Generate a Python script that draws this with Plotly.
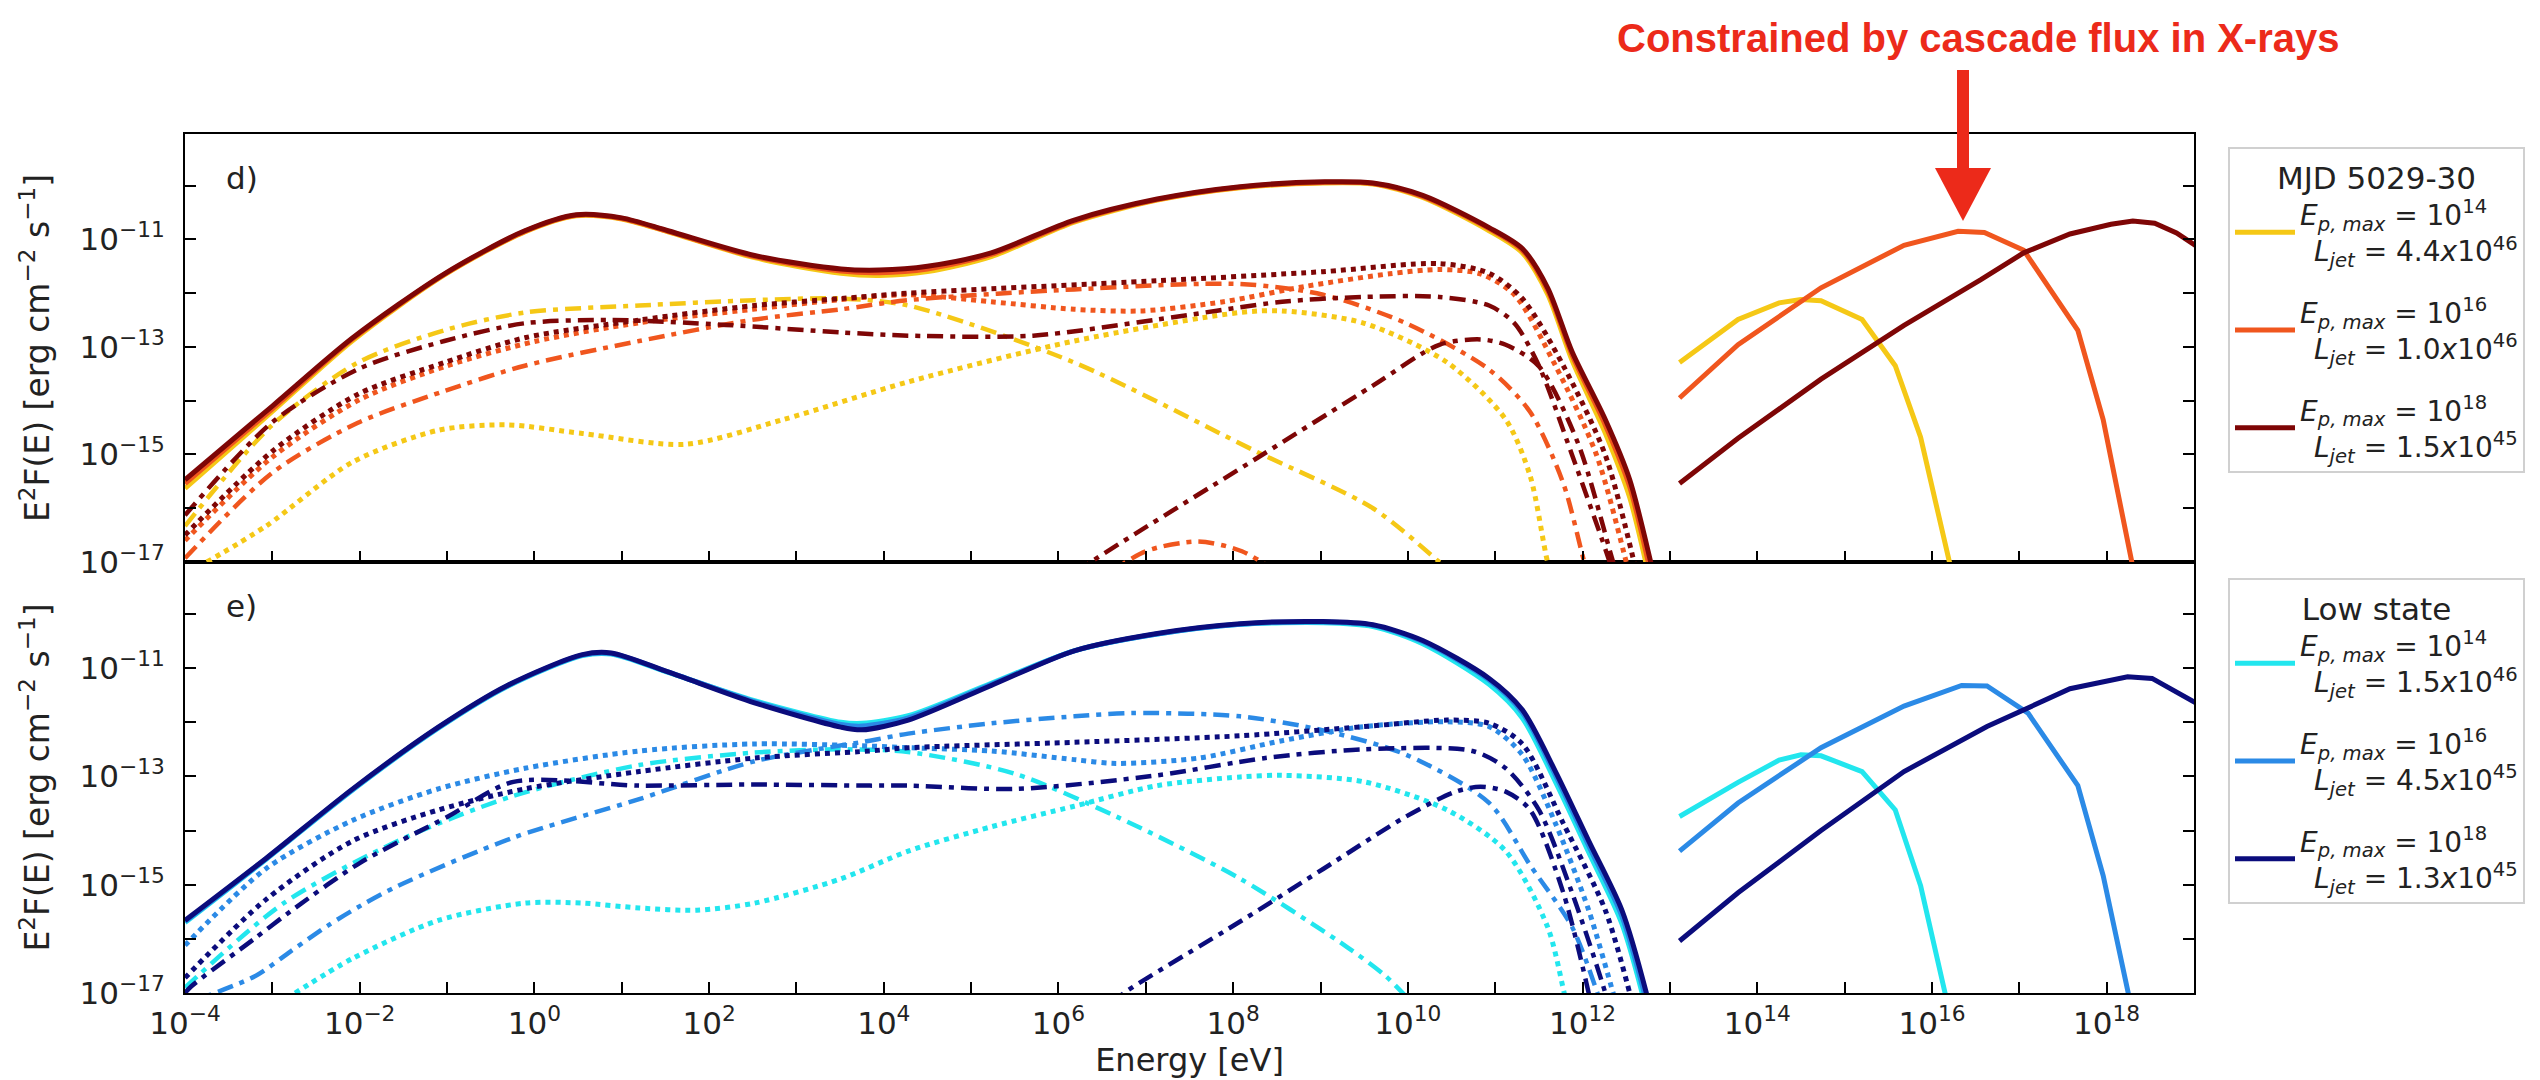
import numpy as np
import plotly.graph_objects as go

# ---------------- colours ----------------
C_Y, C_O, C_R = "#F5C816", "#F0561E", "#7E0606"      # panel d)
C_C, C_B, C_N = "#22E6EE", "#2B8AE6", "#0B0C7C"      # panel e)

# ---------------- panel d) : MJD 5029-30 (log10 E [eV], log10 E2F [erg cm-2 s-1]) ----------------
D_TOT_LOGE = [-4.0, -3.0, -2.08, -1.03, -0.11, 0.48, 1.0, 1.53, 2.52, 3.51, 3.95, 4.5, 5.23, 6.18, 7.13,
              8.08, 9.03, 9.6, 10.17, 10.93, 11.31, 11.6, 11.88, 12.26, 12.54, 12.78, 12.85]
D_TOT_R = [-15.47, -14.1, -12.83, -11.64, -10.84, -10.54, -10.6, -10.84, -11.30, -11.55, -11.57, -11.5, -11.25,
           -10.64, -10.25, -10.02, -9.93, -9.95, -10.18, -10.78, -11.17, -11.9, -13.09, -14.35, -15.47, -17.0, -17.5]
D_TOT_O = [-15.54, -14.15, -12.85, -11.65, -10.85, -10.55, -10.61, -10.85, -11.32, -11.59, -11.62, -11.55, -11.28,
           -10.66, -10.26, -10.03, -9.94, -9.96, -10.2, -10.8, -11.2, -11.95, -13.15, -14.45, -15.6, -17.2, -17.7]
D_TOT_Y = [-15.63, -14.2, -12.88, -11.66, -10.86, -10.56, -10.62, -10.86, -11.34, -11.63, -11.67, -11.6, -11.32,
           -10.68, -10.27, -10.04, -9.95, -9.97, -10.22, -10.84, -11.25, -12.02, -13.25, -14.6, -15.8, -17.4, -17.9]

D_NU_Y_LOGE = [13.11, 13.78, 14.25, 14.5, 14.73, 15.2, 15.58, 15.87, 16.2, 16.26]
D_NU_Y = [-13.29, -12.49, -12.18, -12.12, -12.14, -12.49, -13.35, -14.68, -17.0, -17.5]
D_NU_O_LOGE = [13.11, 13.78, 14.73, 15.68, 16.3, 16.6, 17.05, 17.67, 17.96, 18.29, 18.35]
D_NU_O = [-13.95, -12.96, -11.9, -11.11, -10.85, -10.87, -11.2, -12.69, -14.35, -17.0, -17.5]
D_NU_R_LOGE = [13.11, 13.78, 14.73, 15.68, 16.56, 17.05, 17.58, 18.05, 18.3, 18.55, 18.8, 19.05]
D_NU_R = [-15.54, -14.7, -13.6, -12.6, -11.75, -11.25, -10.9, -10.72, -10.66, -10.7, -10.88, -11.15]

D_Y_DOT_LOGE = [-3.75, -3.07, -2.08, -1.1, -0.31, 0.55, 1.73, 2.85, 4.28, 6.18, 8.08, 8.56, 9.5, 10.45,
                11.12, 11.4, 11.6, 11.7]
D_Y_DOT = [-17.0, -16.33, -15.14, -14.55, -14.45, -14.61, -14.81, -14.35, -13.65, -12.89, -12.36, -12.33,
           -12.56, -13.29, -14.35, -15.4, -17.0, -17.5]
D_Y_DD_LOGE = [-4.0, -3.0, -2.02, -1.03, -0.11, 1.2, 2.52, 3.51, 4.28, 6.18, 8.27, 9.6, 10.36, 10.5]
D_Y_DD = [-16.33, -14.45, -13.29, -12.69, -12.36, -12.23, -12.13, -12.1, -12.23, -13.29, -14.95, -16.0, -17.0, -17.2]
D_O_DOT_LOGE = [-4.0, -3.0, -2.0, -1.0, 0.0, 1.2, 2.5, 3.5, 4.28, 5.23, 6.18, 6.94, 7.89, 8.84, 9.79, 10.36,
                10.83, 11.22, 11.69, 12.16, 12.5, 12.56]
D_O_DOT = [-16.6, -15.05, -13.98, -13.35, -12.9, -12.55, -12.3, -12.12, -12.03, -12.16, -12.3, -12.33, -12.16,
           -11.87, -11.64, -11.56, -11.64, -12.03, -13.35, -15.01, -17.0, -17.4]
D_O_DD_LOGE = [-4.0, -3.0, -2.02, -1.03, -0.11, 1.2, 2.52, 3.51, 4.28, 6.18, 8.08, 9.03, 9.98, 10.93, 11.4,
               11.78, 12.02, 12.1]
D_O_DD = [-16.93, -15.34, -14.41, -13.82, -13.35, -12.89, -12.49, -12.3, -12.13, -11.93, -11.83, -12.03,
          -12.56, -13.42, -14.21, -15.54, -17.0, -17.4]
D_O_HUMP_LOGE = [6.5, 7.0, 7.6, 8.1, 8.6]
D_O_HUMP = [-17.3, -16.8, -16.62, -16.8, -17.3]
D_R_DOT_LOGE = [-4.0, -3.0, -2.02, -1.03, -0.11, 1.2, 2.52, 3.51, 4.28, 7.13, 9.03, 10.36, 10.93, 11.31,
                11.78, 12.26, 12.59, 12.65]
D_R_DOT = [-16.5, -14.94, -13.88, -13.29, -12.83, -12.5, -12.23, -12.1, -12.0, -11.77, -11.6, -11.45, -11.63,
           -12.1, -13.35, -15.01, -17.0, -17.4]
D_R_DD_LOGE = [-4.0, -3.0, -2.0, -1.03, -0.11, 0.88, 2.19, 3.51, 4.28, 5.71, 7.13, 8.56, 9.5, 10.36, 10.93,
               11.22, 11.5, 11.88, 12.31, 12.4]
D_R_DD = [-16.13, -14.4, -13.4, -12.89, -12.56, -12.5, -12.59, -12.73, -12.79, -12.79, -12.49, -12.16, -12.07,
          -12.07, -12.23, -12.56, -13.35, -15.01, -17.0, -17.5]
D_R_HAD_LOGE = [6.2, 6.37, 8.27, 9.6, 10.36, 10.83, 11.12, 11.5, 11.95, 12.35, 12.45]
D_R_HAD = [-17.2, -17.0, -15.07, -13.72, -12.96, -12.86, -12.96, -13.36, -14.8, -17.0, -17.5]

# ---------------- panel e) : Low state ----------------
E_TOT_LOGE = [-4.0, -3.07, -2.08, -1.1, -0.31, 0.55, 0.88, 1.53, 2.52, 3.51, 3.75, 4.28, 5.23, 6.18, 7.13,
              8.08, 9.03, 9.6, 10.17, 10.93, 11.31, 11.69, 12.07, 12.45, 12.73, 12.8]
E_TOT_N = [-15.66, -14.51, -13.23, -12.09, -11.32, -10.75, -10.72, -11.07, -11.64, -12.09, -12.14, -11.96,
           -11.32, -10.68, -10.36, -10.18, -10.14, -10.2, -10.49, -11.19, -11.77, -12.91, -14.19, -15.47, -17.0, -17.5]
E_TOT_B = [-15.68, -14.52, -13.24, -12.1, -11.33, -10.76, -10.73, -11.07, -11.62, -12.04, -12.07, -11.92,
           -11.3, -10.68, -10.37, -10.19, -10.15, -10.21, -10.51, -11.22, -11.82, -12.98, -14.28, -15.58, -17.15, -17.65]
E_TOT_C = [-15.7, -14.53, -13.25, -12.11, -11.34, -10.77, -10.74, -11.08, -11.6, -12.0, -12.02, -11.88,
           -11.28, -10.68, -10.37, -10.19, -10.16, -10.23, -10.55, -11.3, -11.92, -13.1, -14.4, -15.72, -17.3, -17.8]

E_NU_C_LOGE = [13.11, 13.78, 14.25, 14.5, 14.73, 15.2, 15.58, 15.87, 16.15, 16.2]
E_NU_C = [-13.74, -13.11, -12.7, -12.6, -12.62, -12.91, -13.62, -15.02, -17.0, -17.4]
E_NU_B_LOGE = [13.11, 13.78, 14.73, 15.68, 16.34, 16.63, 17.1, 17.67, 17.96, 18.24, 18.3]
E_NU_B = [-14.38, -13.49, -12.47, -11.7, -11.32, -11.33, -11.83, -13.17, -14.83, -17.0, -17.4]
E_NU_N_LOGE = [13.11, 13.78, 14.73, 15.68, 16.63, 17.58, 18.24, 18.52, 19.05]
E_NU_N = [-16.04, -15.15, -14.0, -12.91, -12.08, -11.38, -11.16, -11.19, -11.67]

E_C_DOT_LOGE = [-2.74, -2.08, -1.1, -0.11, 0.55, 1.2, 1.86, 2.52, 3.51, 4.28, 5.23, 6.18, 7.13, 8.08, 8.56,
                9.5, 10.45, 11.12, 11.6, 11.79, 11.85]
E_C_DOT = [-17.0, -16.36, -15.66, -15.34, -15.34, -15.43, -15.47, -15.34, -14.89, -14.38, -13.93, -13.55,
           -13.17, -13.01, -12.98, -13.1, -13.62, -14.38, -15.78, -17.0, -17.4]
E_C_DD_LOGE = [-4.0, -2.87, -1.56, -0.24, 1.2, 2.52, 3.5, 4.28, 5.5, 6.66, 8.08, 9.32, 9.74, 10.0]
E_C_DD = [-16.9, -15.34, -14.19, -13.36, -12.79, -12.56, -12.5, -12.55, -12.95, -13.74, -14.89, -16.17, -16.68, -17.1]
E_B_DOT_LOGE = [-4.0, -3.07, -2.08, -1.1, -0.11, 1.2, 2.52, 3.84, 4.28, 5.23, 6.18, 6.66, 7.61, 8.56, 9.5,
                10.45, 10.93, 11.31, 11.69, 12.07, 12.35, 12.42]
E_B_DOT = [-16.12, -14.7, -13.81, -13.23, -12.85, -12.53, -12.4, -12.44, -12.47, -12.53, -12.69, -12.76,
           -12.66, -12.34, -12.08, -11.99, -12.08, -12.6, -13.87, -15.47, -17.0, -17.4]
E_N_DOT_LOGE = [-4.0, -3.07, -2.08, -1.1, -0.11, 1.2, 2.52, 3.84, 4.28, 6.18, 8.08, 9.5, 10.45, 10.93, 11.31,
                11.78, 12.26, 12.54, 12.6]
E_N_DOT = [-16.72, -15.27, -14.19, -13.62, -13.23, -12.91, -12.66, -12.53, -12.47, -12.37, -12.25, -12.08,
           -11.96, -12.02, -12.4, -13.87, -15.47, -17.0, -17.4]
E_B_DD_LOGE = [-4.0, -3.2, -2.79, -2.36, -1.98, -1.56, -0.24, 1.2, 2.52, 3.84, 4.28, 5.23, 6.18, 6.85, 8.08,
               9.03, 9.98, 10.93, 11.4, 11.88, 12.17, 12.25]
E_B_DD = [-17.2, -16.69, -16.23, -15.75, -15.38, -15.02, -14.13, -13.42, -12.72, -12.34, -12.21, -12.02,
          -11.89, -11.83, -11.89, -12.15, -12.6, -13.49, -14.64, -15.78, -17.0, -17.4]
E_N_DD_LOGE = [-4.0, -3.93, -3.2, -2.79, -2.0, -1.0, -0.24, 1.2, 2.5, 3.84, 4.28, 5.52, 7.13, 8.37, 9.5,
               10.74, 11.12, 11.5, 11.88, 12.26, 12.32]
E_N_DD = [-17.0, -16.88, -15.99, -15.49, -14.6, -13.75, -13.1, -13.17, -13.15, -13.17, -13.17, -13.23,
          -12.98, -12.66, -12.5, -12.53, -12.85, -13.62, -15.15, -17.0, -17.4]
E_N_HAD_LOGE = [6.6, 6.75, 8.08, 9.03, 9.98, 10.55, 10.83, 11.12, 11.4, 11.78, 12.07, 12.12]
E_N_HAD = [-17.2, -17.0, -15.68, -14.71, -13.74, -13.28, -13.19, -13.28, -13.62, -15.15, -17.0, -17.4]

# ---------------- legend / tick text ----------------
EP_MAX_EXP = [14, 16, 18]
D_LJET = ["4.4", "1.0", "1.5"]
D_LJET_EXP = [46, 46, 45]
E_LJET = ["1.5", "4.5", "1.3"]
E_LJET_EXP = [46, 45, 45]
X_TICK_EXP = list(range(-4, 20))
X_LABEL_EXP = list(range(-4, 20, 2))
Y_TICK_EXP = list(range(-17, -8))
Y_LABEL_EXP = [-17, -15, -13, -11, -9]

# ---------------- geometry helpers (pixel -> paper) ----------------
W, H = 2540, 1080
L, R, T, B = 177, 2186, 126, 985
MID = 554


def px_x(px):
    return (px - L) / (R - L)


def px_y(py):
    return (B - py) / (B - T)


DOT = "dot"
DASHDOT = "16px,7px,5px,7px"
W_SOLID, W_DOT, W_DD = 5, 5, 4.5

fig = go.Figure()


def add(loge, logf, color, dash, width, top, name=None, legend=None, group=None, shape="spline"):
    fig.add_trace(go.Scatter(
        x=10 ** np.array(loge, dtype=float), y=10 ** np.array(logf, dtype=float),
        mode="lines", line=dict(color=color, width=width, dash=dash, shape=shape,
                                smoothing=0.8 if shape == "spline" else None),
        xaxis="x2" if top else "x", yaxis="y2" if top else "y",
        name=name if name else "", showlegend=name is not None,
        legend=legend if legend else ("legend" if top else "legend2"),
        legendgroup=group, hoverinfo="skip"))


def label(ep, lj, lje):
    return (f"<i>E</i><sub><i>p, max</i></sub> = 10<sup>{ep}</sup><br>"
            f"\u2002<i>L</i><sub><i>jet</i></sub> = {lj}<i>x</i>10<sup>{lje}</sup>")


# panel d) components
add(D_Y_DOT_LOGE, D_Y_DOT, C_Y, DOT, W_DOT, True)
add(D_Y_DD_LOGE, D_Y_DD, C_Y, DASHDOT, W_DD, True)
add(D_O_HUMP_LOGE, D_O_HUMP, C_O, DASHDOT, W_DD, True)
add(D_O_DD_LOGE, D_O_DD, C_O, DASHDOT, W_DD, True)
add(D_O_DOT_LOGE, D_O_DOT, C_O, DOT, W_DOT, True)
add(D_R_HAD_LOGE, D_R_HAD, C_R, DASHDOT, W_DD, True)
add(D_R_DD_LOGE, D_R_DD, C_R, DASHDOT, W_DD, True)
add(D_R_DOT_LOGE, D_R_DOT, C_R, DOT, W_DOT, True)
# panel d) totals (legend) and neutrinos
for i, (le, lf, nle, nlf, col) in enumerate([
        (D_TOT_LOGE, D_TOT_Y, D_NU_Y_LOGE, D_NU_Y, C_Y),
        (D_TOT_LOGE, D_TOT_O, D_NU_O_LOGE, D_NU_O, C_O),
        (D_TOT_LOGE, D_TOT_R, D_NU_R_LOGE, D_NU_R, C_R)]):
    add(le, lf, col, "solid", W_SOLID, True, name=label(EP_MAX_EXP[i], D_LJET[i], D_LJET_EXP[i]),
        legend="legend", group=f"d{i}")
    add(nle, nlf, col, "solid", W_SOLID, True, group=f"d{i}", shape="linear")

# panel e) components
add(E_C_DOT_LOGE, E_C_DOT, C_C, DOT, W_DOT, False)
add(E_C_DD_LOGE, E_C_DD, C_C, DASHDOT, W_DD, False)
add(E_B_DD_LOGE, E_B_DD, C_B, DASHDOT, W_DD, False)
add(E_B_DOT_LOGE, E_B_DOT, C_B, DOT, W_DOT, False)
add(E_N_HAD_LOGE, E_N_HAD, C_N, DASHDOT, W_DD, False)
add(E_N_DD_LOGE, E_N_DD, C_N, DASHDOT, W_DD, False)
add(E_N_DOT_LOGE, E_N_DOT, C_N, DOT, W_DOT, False)
for i, (lf, nle, nlf, col) in enumerate([
        (E_TOT_C, E_NU_C_LOGE, E_NU_C, C_C),
        (E_TOT_B, E_NU_B_LOGE, E_NU_B, C_B),
        (E_TOT_N, E_NU_N_LOGE, E_NU_N, C_N)]):
    add(E_TOT_LOGE, lf, col, "solid", W_SOLID, False, name=label(EP_MAX_EXP[i], E_LJET[i], E_LJET_EXP[i]),
        legend="legend2", group=f"e{i}")
    add(nle, nlf, col, "solid", W_SOLID, False, group=f"e{i}", shape="linear")

# ---------------- axes ----------------
FONT = "DejaVu Sans"
TXT = "#222222"
xtv = [10.0 ** e for e in X_TICK_EXP]
xtt = [f"10<sup>{str(e).replace('-', '−')}</sup>" if e in X_LABEL_EXP else "" for e in X_TICK_EXP]
ytv = [10.0 ** e for e in Y_TICK_EXP]
ytt = [f"10<sup>{str(e).replace('-', '−')}</sup>" if e in Y_LABEL_EXP else "" for e in Y_TICK_EXP]
split = px_y(MID)

common_x = dict(type="log", range=[-4, 19], tickvals=xtv, ticks="inside", ticklen=11, tickwidth=2,
                tickcolor="black", showline=True, linecolor="black", linewidth=2, mirror=True,
                showgrid=False, zeroline=False)
common_y = dict(type="log", range=[-17, -9.04], tickvals=ytv, ticktext=ytt, ticks="inside", ticklen=11,
                tickwidth=2, tickcolor="black", showline=True, linecolor="black", linewidth=2,
                mirror="ticks", showgrid=False, zeroline=False, ticklabelstandoff=12,
                tickfont=dict(size=31, family=FONT, color=TXT),
                title=dict(text="E<sup>2</sup>F(E) [erg cm<sup>−2</sup> s<sup>−1</sup>]",
                           font=dict(size=33, family=FONT, color=TXT), standoff=20))

fig.update_layout(
    width=W, height=H, margin=dict(l=L, r=W - R, t=T, b=H - B),
    paper_bgcolor="white", plot_bgcolor="white",
    font=dict(family=FONT, color=TXT),
    xaxis=dict(**common_x, anchor="y", domain=[0, 1], ticktext=xtt, ticklabelstandoff=2,
               tickfont=dict(size=31, family=FONT, color=TXT),
               title=dict(text="Energy [eV]", font=dict(size=32, family=FONT, color=TXT), standoff=0)),
    xaxis2=dict(**common_x, anchor="y2", matches="x", ticktext=[""] * len(xtv), showticklabels=False),
    yaxis=dict(**common_y, anchor="x", domain=[0, split]),
    yaxis2=dict(**common_y, anchor="x2", domain=[split, 1]),
    legend=dict(x=px_x(2220), y=px_y(139), xanchor="left", yanchor="top", bgcolor="white",
                bordercolor="#d0d0d0", borderwidth=2, tracegroupgap=22, itemwidth=60,
                font=dict(size=28, family=FONT, color=TXT),
                title=dict(text="MJD 5029-30", side="top center", font=dict(size=31, family=FONT, color=TXT))),
    legend2=dict(x=px_x(2220), y=px_y(570), xanchor="left", yanchor="top", bgcolor="white",
                 bordercolor="#d0d0d0", borderwidth=2, tracegroupgap=22, itemwidth=60,
                 font=dict(size=28, family=FONT, color=TXT),
                 title=dict(text="Low state", side="top center", font=dict(size=31, family=FONT, color=TXT))),
    showlegend=True,
)

# panel labels
fig.add_annotation(text="d)", xref="paper", yref="paper", x=px_x(216), y=px_y(170), xanchor="left",
                   yanchor="middle", showarrow=False, font=dict(size=31, family=FONT, color=TXT))
fig.add_annotation(text="e)", xref="paper", yref="paper", x=px_x(216), y=px_y(598), xanchor="left",
                   yanchor="middle", showarrow=False, font=dict(size=31, family=FONT, color=TXT))

# red call-out
RED = "#EC2A1A"
fig.add_annotation(text="<b>Constrained by cascade flux in X-rays</b>", xref="paper", yref="paper",
                   x=px_x(1970), y=px_y(30), xanchor="center", yanchor="middle", showarrow=False,
                   font=dict(size=40, family="Liberation Sans, Arial, sans-serif", color=RED))
fig.add_shape(type="rect", xref="paper", yref="paper", x0=px_x(1949), x1=px_x(1961),
              y0=px_y(162), y1=px_y(62), fillcolor=RED, line=dict(width=0), layer="above")
fig.add_shape(type="path", xref="paper", yref="paper",
              path=f"M {px_x(1927)} {px_y(160)} L {px_x(1983)} {px_y(160)} L {px_x(1955)} {px_y(213)} Z",
              fillcolor=RED, line=dict(width=0), layer="above")

fig.write_html("out.html")
